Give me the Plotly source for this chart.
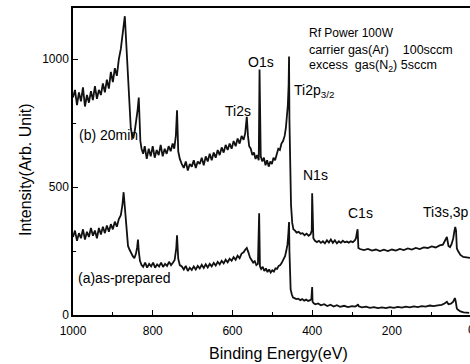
import plotly.graph_objects as go

# ---- data ----
energy_b = [1000, 995, 990, 985, 980, 975, 970, 965, 960, 955, 950, 945, 940, 935, 930, 925, 920, 915, 910, 905,
            900, 895, 890, 885, 880, 876, 872, 870, 867, 864, 861, 858, 855, 852, 849, 845, 841, 838, 835, 833,
            831, 828, 824, 820, 815, 810, 805, 800, 795, 790, 785, 780, 775, 770, 765, 760, 755, 750, 746, 742,
            739, 736, 732, 727, 722, 717, 712, 707, 702, 697, 692, 687, 682, 677, 672, 667, 662, 657, 652, 647,
            642, 637, 632, 627, 622, 617, 612, 607, 602, 597, 592, 587, 582, 577, 572, 568, 564, 561, 558, 554,
            550, 546, 542, 538, 534, 532, 529, 525, 521, 517, 513, 509, 505, 501, 497, 493, 489, 485, 481, 477,
            473, 469, 466, 463, 461, 459, 458, 457, 455, 453, 450, 447, 443, 439, 434, 429, 424, 419, 414, 409,
            404, 401, 400, 399, 397, 393, 388, 383, 378, 373, 368, 363, 358, 353, 348, 343, 338, 333, 328, 323,
            318, 313, 308, 303, 298, 293, 290, 288, 286, 284, 280, 270, 260, 250, 240, 230, 220, 210, 200, 190,
            180, 170, 160, 150, 140, 130, 120, 110, 100, 90, 80, 72, 66, 62, 58, 54, 50, 46, 43, 41,
            39, 37, 34, 28, 21, 12, 4]
inten_b = [850, 880, 820, 870, 835, 890, 815, 860, 830, 875, 840, 895, 845, 880, 860, 905, 870, 920, 885, 950,
           910, 965, 935, 1000, 1040, 1100, 1150, 1168, 1080, 990, 900, 790, 730, 705, 690, 720, 760, 800, 850, 760,
           680, 650, 630, 660, 610, 650, 620, 660, 615, 645, 625, 665, 620, 650, 630, 660, 640, 670, 650, 700,
           800, 640, 610, 590, 575, 600, 565, 590, 580, 605, 575, 600, 590, 615, 585, 620, 600, 630, 605, 635,
           615, 645, 625, 655, 635, 665, 645, 670, 650, 680, 660, 690, 670, 700, 685, 710, 775, 700, 660, 650,
           625, 635, 610, 625, 605, 960, 620, 600, 615, 585, 605, 580, 600, 590, 615, 605, 630, 650, 645, 670,
           680, 700, 730, 780, 820, 900, 1010, 760, 520, 430, 360, 335, 330, 322, 325, 318, 320, 312, 318, 310,
           316, 330, 476, 320, 300, 290, 285, 290, 282, 288, 280, 292, 283, 295, 282, 292, 280, 288, 282, 290,
           284, 287, 283, 288, 285, 292, 300, 320, 335, 262, 258, 254, 258, 252, 256, 250, 255, 250, 256, 252,
           258, 254, 260, 256, 262, 258, 264, 262, 268, 264, 272, 275, 290, 305, 270, 265, 278, 300, 330, 344,
           330, 260, 250, 235, 227, 225, 223]

energy_a = [1000, 995, 990, 985, 980, 975, 970, 965, 960, 955, 950, 945, 940, 935, 930, 925, 920, 915, 910, 905,
            900, 895, 890, 885, 880, 876, 873, 871, 868, 865, 862, 858, 854, 850, 846, 842, 839, 837, 835, 832,
            828, 824, 819, 814, 809, 804, 799, 794, 789, 784, 779, 774, 769, 764, 759, 754, 749, 745, 741, 739,
            736, 732, 727, 722, 717, 712, 707, 702, 697, 692, 687, 682, 677, 672, 667, 662, 657, 652, 647, 642,
            637, 632, 627, 622, 617, 612, 607, 602, 597, 592, 587, 582, 577, 572, 568, 564, 560, 556, 552, 548,
            544, 540, 536, 533, 531, 528, 524, 520, 516, 512, 508, 504, 500, 496, 492, 488, 484, 480, 476, 472,
            468, 465, 462, 460, 458, 457, 456, 454, 451, 448, 444, 440, 435, 430, 425, 420, 415, 410, 405, 402,
            400, 399, 396, 392, 385, 378, 370, 362, 354, 346, 338, 330, 320, 310, 300, 292, 287, 285, 283, 275,
            265, 255, 245, 235, 225, 215, 205, 195, 185, 175, 165, 155, 145, 135, 125, 115, 105, 95, 85, 75,
            68, 62, 58, 52, 46, 42, 40, 37, 34, 28, 20, 12, 6]
inten_a = [305, 330, 290, 320, 300, 335, 295, 325, 305, 340, 310, 330, 300, 340, 315, 345, 320, 350, 325, 355,
           335, 365, 345, 375, 390, 430, 480, 440, 370, 300, 270, 255, 240, 230, 222, 240, 265, 295, 250, 212,
           195, 188, 205, 185, 200, 190, 205, 185, 198, 190, 205, 188, 200, 192, 208, 195, 205, 215, 260, 312,
           220, 195, 190, 178, 192, 172, 185, 176, 190, 178, 192, 182, 196, 184, 198, 186, 200, 190, 204, 193,
           208, 198, 212, 202, 216, 206, 220, 212, 226, 216, 232, 222, 240, 245, 255, 262, 245, 225, 215, 205,
           210, 195, 200, 398, 190, 180, 188, 172, 182, 168, 178, 166, 175, 170, 182, 180, 192, 195, 205, 215,
           230, 250, 275, 310, 363, 250, 140, 100, 80, 68, 66, 62, 64, 58, 62, 56, 60, 55, 58, 62,
           109, 52, 46, 42, 45, 38, 42, 35, 40, 33, 38, 32, 36, 31, 35, 33, 38, 42, 34, 30,
           33, 28, 31, 27, 30, 27, 31, 28, 32, 29, 33, 30, 34, 31, 35, 33, 37, 35, 38, 40,
           45, 52, 42, 44, 52, 66, 55, 25, 20, 14, 10, 8, 8]

x_tick_vals = [1000, 800, 600, 400, 200]
y_tick_vals = [0, 500, 1000]

W, H = 470, 364
L, R, T, B = 73, 0, 8, 49
pw, ph = W - L - R, H - T - B


def px(x):
    return (x - L) / pw


def py(y):
    return (H - B - y) / ph


FONT = "Liberation Sans, Arial, sans-serif"

fig = go.Figure()
for e, i in ((energy_b, inten_b), (energy_a, inten_a)):
    fig.add_trace(go.Scatter(x=e, y=i, mode="lines",
                             line=dict(color="#111111", width=1.8),
                             showlegend=False, hoverinfo="skip"))

NB = "\u00a0"
ann = [
    ("Rf Power 100W", 308, 33, "left", 12),
    ("carrier gas(Ar)" + NB * 4 + "100sccm", 308, 50, "left", 12.5),
    ("excess" + NB * 2 + "gas(N<sub>2</sub>) 5sccm", 308, 66, "left", 12.5),
    ("O1s", 261, 62, "center", 14),
    ("Ti2p<sub>3/2</sub>", 293, 91, "left", 14),
    ("Ti2s", 238, 111, "center", 14),
    ("N1s", 302, 175, "left", 14),
    ("C1s", 360, 213, "center", 14),
    ("Ti3s,3p", 422, 212, "left", 14),
    ("(b) 20min", 78, 135, "left", 14),
    ("(a)as-prepared", 77, 278, "left", 14),
]
annotations = []
for text, x, y, anc, size in ann:
    annotations.append(dict(text=text, x=px(x), y=py(y), xref="paper", yref="paper",
                            xanchor=anc, yanchor="middle", showarrow=False,
                            font=dict(family=FONT, size=size, color="black"), borderpad=0))
# partially visible "0" tick label at the right edge
annotations.append(dict(text="0", x=px(471), y=py(330), xref="paper", yref="paper",
                        xanchor="center", yanchor="middle", showarrow=False,
                        font=dict(family=FONT, size=12, color="black")))
annotations.append(dict(text="Binding Energy(eV)", x=px(278), y=py(353), xref="paper", yref="paper",
                        xanchor="center", yanchor="middle", showarrow=False,
                        font=dict(family=FONT, size=16, color="black")))
annotations.append(dict(text="Intensity(Arb. Unit)", x=px(25), y=py(170), xref="paper", yref="paper",
                        xanchor="center", yanchor="middle", showarrow=False, textangle=-90,
                        font=dict(family=FONT, size=16, color="black")))

fig.update_layout(
    width=W, height=H,
    margin=dict(l=L, r=R, t=T, b=B),
    paper_bgcolor="white", plot_bgcolor="white",
    annotations=annotations,
    xaxis=dict(range=[1000, 4], tickvals=x_tick_vals, ticks="inside", ticklen=5, tickwidth=1.2,
               tickcolor="black", showline=True, linecolor="black", linewidth=1.5, mirror=True,
               showgrid=False, zeroline=False, ticklabelstandoff=4,
               tickfont=dict(family=FONT, size=12, color="black"),
               minor=dict(tickvals=[900, 700, 500, 300, 100], ticks="inside", ticklen=3,
                          tickcolor="black", showgrid=False)),
    yaxis=dict(range=[0, 1200], tickvals=y_tick_vals, ticks="inside", ticklen=5, tickwidth=1.2,
               tickcolor="black", showline=True, linecolor="black", linewidth=1.5,
               showgrid=False, zeroline=False,
               tickfont=dict(family=FONT, size=12, color="black"),
               minor=dict(tickvals=[250, 750], ticks="inside", ticklen=3,
                          tickcolor="black", showgrid=False)),
)

fig.write_html("out.html")
